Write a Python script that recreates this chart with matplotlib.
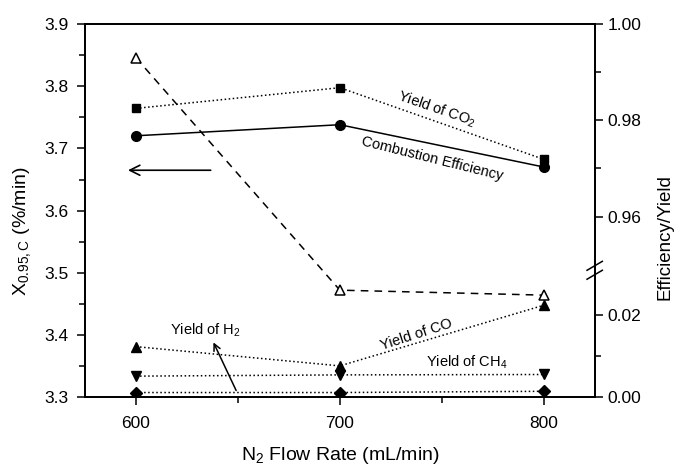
import matplotlib.pyplot as plt
import numpy as np
from matplotlib.ticker import MultipleLocator, FixedLocator, FormatStrFormatter

plt.rcParams['font.family'] = ['Liberation Sans', 'DejaVu Sans']
plt.rcParams['mathtext.fontset'] = 'custom'
plt.rcParams['mathtext.rm'] = 'Liberation Sans'
plt.rcParams['mathtext.it'] = 'Liberation Sans'

# data
flow = [600, 700, 800]
x095 = [3.846, 3.472, 3.464]          # left axis, open triangles
yield_co2 = [0.9825, 0.9868, 0.9719]  # right axis
comb_eff = [0.9768, 0.9791, 0.9703]
yield_co = [0.0123, 0.0076, 0.0224]
yield_ch4 = [0.0051, 0.0054, 0.0055]
yield_h2 = [0.0011, 0.0011, 0.0014]

# broken right axis: 0-0.031 at bottom, 0.95-1.00 at top
brk_in = [0.0, 0.031, 0.95, 1.0]
brk_out = [0.0, 0.3407, 0.3552, 1.0]

def fwd(v):
    return np.interp(v, brk_in, brk_out)

def inv(u):
    return np.interp(u, brk_out, brk_in)

fig = plt.figure(figsize=(6.75, 4.66), dpi=100)
ax = fig.add_axes([0.126, 0.148, 0.755, 0.800])
ax2 = ax.twinx()
ax2.set_yscale('function', functions=(fwd, inv))

ax.plot(flow, x095, color='black', ls=(0, (5, 4)), lw=1.1, marker='^',
        mfc='white', mec='black', ms=7, mew=1.1)
ax2.plot(flow, yield_co2, color='black', ls=':', lw=1.1, marker='s', ms=6)
ax2.plot(flow, comb_eff, color='black', ls='-', lw=1.1, marker='o', ms=7)
ax2.plot(flow, yield_co, color='black', ls=':', lw=1.1, marker='^', ms=7)
ax2.plot(flow, yield_ch4, color='black', ls=':', lw=1.1, marker='v', ms=7)
ax2.plot(flow, yield_h2, color='black', ls=':', lw=1.1, marker='D', ms=6)

ax.set_xlim(575, 825)
ax.set_ylim(3.3, 3.9)
ax2.set_ylim(0.0, 1.0)

ax.xaxis.set_major_locator(FixedLocator([600, 700, 800]))
ax.xaxis.set_minor_locator(FixedLocator([650, 750]))
ax.yaxis.set_major_locator(MultipleLocator(0.1))
ax.yaxis.set_minor_locator(MultipleLocator(0.05))
ax.yaxis.set_major_formatter(FormatStrFormatter('%.1f'))
ax2.yaxis.set_major_locator(FixedLocator([0.0, 0.02, 0.96, 0.98, 1.0]))
ax2.yaxis.set_minor_locator(FixedLocator([0.01, 0.97, 0.99]))
ax2.yaxis.set_major_formatter(FormatStrFormatter('%.2f'))

for a in (ax, ax2):
    a.tick_params(which='major', direction='out', length=6, width=1.1, labelsize=12.5)
    a.tick_params(which='minor', direction='out', length=4, width=1.1)
    for s in a.spines.values():
        s.set_linewidth(1.3)
ax.tick_params(axis='x', pad=8)
ax.tick_params(axis='y', pad=6)
ax.tick_params(top=False, which='both')

ax.set_xlabel('N$_2$ Flow Rate (mL/min)', fontsize=14, labelpad=10)
ax.set_ylabel('X$_{0.95,C}$ (%/min)', fontsize=14)
ax2.set_ylabel('Efficiency/Yield', fontsize=13.5)
ax.yaxis.set_label_coords(-0.102, 0.445)
ax2.yaxis.set_label_coords(1.121, 0.43)

# break marks on right axis
yb = 0.340
for dy in (-0.012, 0.012):
    ax.plot([0.985, 1.015], [yb + dy - 0.012, yb + dy + 0.012], transform=ax.transAxes,
            color='black', lw=1.1, clip_on=False)

# annotations
ax.annotate('', xy=(594.7, 3.665), xytext=(638, 3.665),
            arrowprops=dict(arrowstyle='->', color='black', lw=1.2, mutation_scale=18))
ax.annotate('', xy=(637.4, 3.392), xytext=(649.7, 3.3065),
            arrowprops=dict(arrowstyle='->', color='black', lw=1.1, mutation_scale=12))
ax.text(747.6, 3.763, 'Yield of CO$_2$', fontsize=10.5, rotation=-19, ha='center', va='center')
ax.text(745.3, 3.683, 'Combustion Efficiency', fontsize=10.5, rotation=-14, ha='center', va='center')
ax.text(634, 3.408, 'Yield of H$_2$', fontsize=10.5, ha='center', va='center')
ax.text(737.7, 3.400, 'Yield of CO', fontsize=10.5, rotation=18, ha='center', va='center')
ax.text(762, 3.356, 'Yield of CH$_4$', fontsize=10.5, ha='center', va='center')

fig.savefig('out.png', dpi=100)
